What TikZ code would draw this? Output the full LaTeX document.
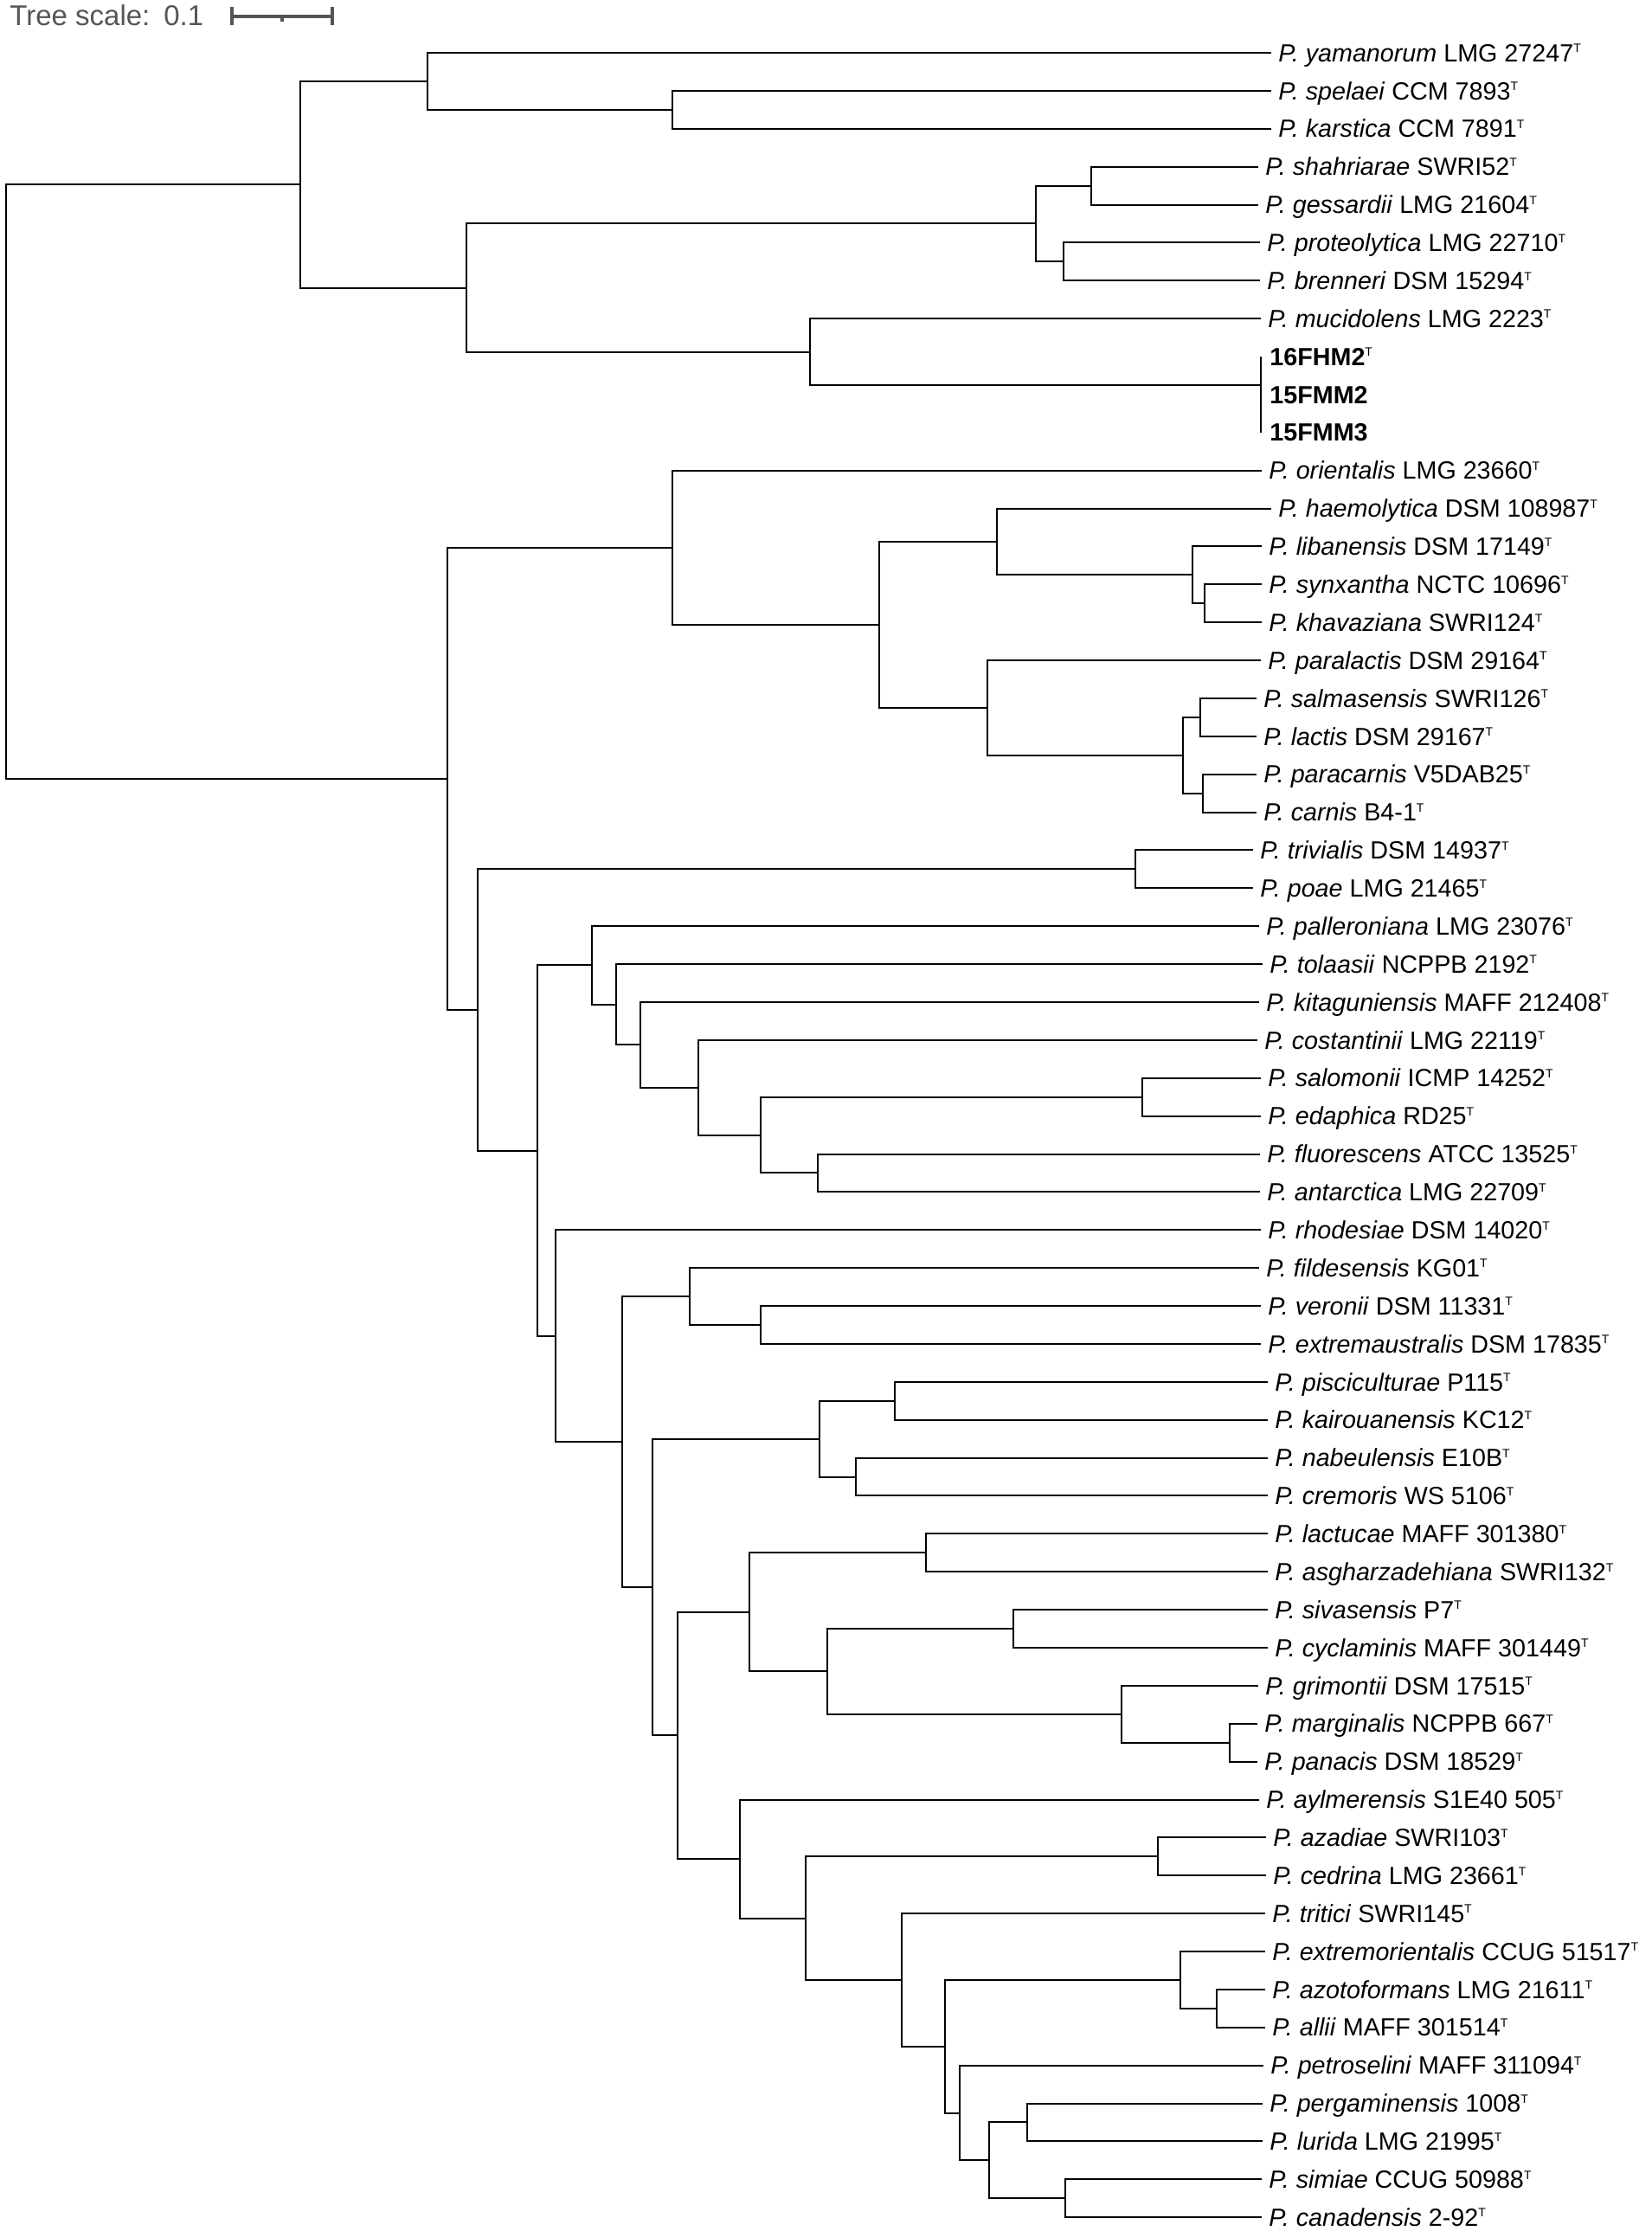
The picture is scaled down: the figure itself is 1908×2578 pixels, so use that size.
\documentclass[tikz,border=0pt]{standalone}
\usepackage{fontspec}
\setmainfont{Liberation Sans}
\definecolor{scalegray}{RGB}{85,85,85}
\newcommand{\supT}{\raisebox{5.2pt}{\fontsize{7}{8}\selectfont T}}
\newcommand{\tstrain}[2]{\textit{P. #1} #2\supT}

\tikzset{
  leaf/.style={anchor=west, inner xsep=4pt, inner ysep=0pt, text height=10.2pt,
    text depth=0pt, font=\fontsize{14.35}{16}\selectfont},
  branch/.style={draw=black, line width=1pt},
  scalebar/.style={draw=scalegray, line width=1.6pt}
}

\begin{document}
\begin{tikzpicture}[x=0.5pt, y=-21.94pt]
    % scale bar, in pixel units
    \begin{scope}[y=-0.5pt, yshift=30.5pt]
        \useasboundingbox (0,0) rectangle (1908,2578);
        \node[anchor=base west, inner sep=0pt, text=scalegray, font=\fontsize{16.5}{18}\selectfont]
            (scaletext) at (11,29.3) {Tree scale:\hspace{8pt}0.1};
        \draw[scalebar] (268,8) -- (268,29);
        \draw[scalebar] (268,19) -- (384,19);
        \draw[scalebar] (384,8) -- (384,29);
        \draw[scalebar] (326,19) -- (326,25);
    \end{scope}

    % inner nodes (x in px, y in rows)
    \coordinate (root) at (6.6,11.294);
    \coordinate (A) at (347.3,3.469);
    \coordinate (B) at (493.6,0.75);
    \coordinate (C) at (776.8,1.5);
    \coordinate (D) at (538.9,6.1875);
    \coordinate (E) at (1196.8,4.5);
    \coordinate (F) at (1261,3.5);
    \coordinate (G) at (1228.9,5.5);
    \coordinate (H) at (936.3,7.875);
    \coordinate (S) at (1457,8.75);
    \coordinate (S2) at (1457,9.5);
    \coordinate (I) at (517.2,19.118);
    \coordinate (J) at (776.8,13.031);
    \coordinate (K) at (1015.6,15.0625);
    \coordinate (L) at (1151.5,12.875);
    \coordinate (M) at (1378,13.75);
    \coordinate (N) at (1392.2,14.5);
    \coordinate (O) at (1141.1,17.25);
    \coordinate (P) at (1366.7,18.5);
    \coordinate (Q) at (1387.4,17.5);
    \coordinate (R) at (1390.3,19.5);
    \coordinate (X) at (552.1,25.205);
    \coordinate (T) at (1312,21.5);
    \coordinate (X2) at (621,28.910);
    \coordinate (Y) at (684.3,24.031);
    \coordinate (Y1) at (711.7,25.0625);
    \coordinate (Y2) at (740,26.125);
    \coordinate (Y3) at (807,27.25);
    \coordinate (Y4) at (878.7,28.5);
    \coordinate (Y5) at (1319.5,27.5);
    \coordinate (Y6) at (944.8,29.5);
    \coordinate (Z) at (641.8,33.789);
    \coordinate (Z1) at (719.2,36.578);
    \coordinate (Z2) at (796.6,32.75);
    \coordinate (Z2a) at (878.7,33.5);
    \coordinate (Z3) at (754.1,40.406);
    \coordinate (Z4) at (946.7,36.5);
    \coordinate (Z4a) at (1033.5,35.5);
    \coordinate (Z4b) at (989.1,37.5);
    \coordinate (Z5) at (783.4,44.3125);
    \coordinate (Z6) at (865.5,41.0625);
    \coordinate (Z6a) at (1070.3,39.5);
    \coordinate (Z6b) at (956.1,42.625);
    \coordinate (Z6c) at (1171.3,41.5);
    \coordinate (Z6d) at (1295.9,43.75);
    \coordinate (Z6e) at (1420.5,44.5);
    \coordinate (Z7) at (855.1,47.5625);
    \coordinate (Z8) at (930.6,49.125);
    \coordinate (Z9) at (1338.4,47.5);
    \coordinate (Z10) at (1042,50.75);
    \coordinate (Z11) at (1092,52.5);
    \coordinate (Z12) at (1363.8,50.75);
    \coordinate (Z12a) at (1406.3,51.5);
    \coordinate (Z13) at (1109,54.25);
    \coordinate (Z14) at (1143,55.5);
    \coordinate (Z14a) at (1187.4,54.5);
    \coordinate (Z14b) at (1230.8,56.5);

    % leaves
    \node[leaf] (yamanorum) at (1469,0) {\tstrain{yamanorum}{LMG 27247}};
    \node[leaf] (spelaei) at (1469,1) {\tstrain{spelaei}{CCM 7893}};
    \node[leaf] (karstica) at (1469,2) {\tstrain{karstica}{CCM 7891}};
    \node[leaf] (shahriarae) at (1454,3) {\tstrain{shahriarae}{SWRI52}};
    \node[leaf] (gessardii) at (1454,4) {\tstrain{gessardii}{LMG 21604}};
    \node[leaf] (proteolytica) at (1456,5) {\tstrain{proteolytica}{LMG 22710}};
    \node[leaf] (brenneri) at (1456,6) {\tstrain{brenneri}{DSM 15294}};
    \node[leaf] (mucidolens) at (1457,7) {\tstrain{mucidolens}{LMG 2223}};
    \node[leaf, inner xsep=5pt] (s16FHM2) at (1457,8) {\textbf{16FHM2}\supT};
    \node[leaf, inner xsep=5pt] (s15FMM2) at (1457,9) {\textbf{15FMM2}};
    \node[leaf, inner xsep=5pt] (s15FMM3) at (1457,10) {\textbf{15FMM3}};
    \node[leaf] (orientalis) at (1458,11) {\tstrain{orientalis}{LMG 23660}};
    \node[leaf] (haemolytica) at (1469,12) {\tstrain{haemolytica}{DSM 108987}};
    \node[leaf] (libanensis) at (1458,13) {\tstrain{libanensis}{DSM 17149}};
    \node[leaf] (synxantha) at (1458,14) {\tstrain{synxantha}{NCTC 10696}};
    \node[leaf] (khavaziana) at (1458,15) {\tstrain{khavaziana}{SWRI124}};
    \node[leaf] (paralactis) at (1457,16) {\tstrain{paralactis}{DSM 29164}};
    \node[leaf] (salmasensis) at (1452,17) {\tstrain{salmasensis}{SWRI126}};
    \node[leaf] (lactis) at (1452,18) {\tstrain{lactis}{DSM 29167}};
    \node[leaf] (paracarnis) at (1452,19) {\tstrain{paracarnis}{V5DAB25}};
    \node[leaf] (carnis) at (1452,20) {\tstrain{carnis}{B4-1}};
    \node[leaf] (trivialis) at (1448,21) {\tstrain{trivialis}{DSM 14937}};
    \node[leaf] (poae) at (1448,22) {\tstrain{poae}{LMG 21465}};
    \node[leaf] (palleroniana) at (1455,23) {\tstrain{palleroniana}{LMG 23076}};
    \node[leaf] (tolaasii) at (1459,24) {\tstrain{tolaasii}{NCPPB 2192}};
    \node[leaf] (kitaguniensis) at (1455,25) {\tstrain{kitaguniensis}{MAFF 212408}};
    \node[leaf] (costantinii) at (1453,26) {\tstrain{costantinii}{LMG 22119}};
    \node[leaf] (salomonii) at (1457,27) {\tstrain{salomonii}{ICMP 14252}};
    \node[leaf] (edaphica) at (1457,28) {\tstrain{edaphica}{RD25}};
    \node[leaf] (fluorescens) at (1456,29) {\tstrain{fluorescens}{ATCC 13525}};
    \node[leaf] (antarctica) at (1456,30) {\tstrain{antarctica}{LMG 22709}};
    \node[leaf] (rhodesiae) at (1457,31) {\tstrain{rhodesiae}{DSM 14020}};
    \node[leaf] (fildesensis) at (1455,32) {\tstrain{fildesensis}{KG01}};
    \node[leaf] (veronii) at (1457,33) {\tstrain{veronii}{DSM 11331}};
    \node[leaf] (extremaustralis) at (1457,34) {\tstrain{extremaustralis}{DSM 17835}};
    \node[leaf] (pisciculturae) at (1465,35) {\tstrain{pisciculturae}{P115}};
    \node[leaf] (kairouanensis) at (1465,36) {\tstrain{kairouanensis}{KC12}};
    \node[leaf] (nabeulensis) at (1465,37) {\tstrain{nabeulensis}{E10B}};
    \node[leaf] (cremoris) at (1465,38) {\tstrain{cremoris}{WS 5106}};
    \node[leaf] (lactucae) at (1465,39) {\tstrain{lactucae}{MAFF 301380}};
    \node[leaf] (asgharzadehiana) at (1465,40) {\tstrain{asgharzadehiana}{SWRI132}};
    \node[leaf] (sivasensis) at (1465,41) {\tstrain{sivasensis}{P7}};
    \node[leaf] (cyclaminis) at (1465,42) {\tstrain{cyclaminis}{MAFF 301449}};
    \node[leaf] (grimontii) at (1454,43) {\tstrain{grimontii}{DSM 17515}};
    \node[leaf] (marginalis) at (1453,44) {\tstrain{marginalis}{NCPPB 667}};
    \node[leaf] (panacis) at (1453,45) {\tstrain{panacis}{DSM 18529}};
    \node[leaf] (aylmerensis) at (1455,46) {\tstrain{aylmerensis}{S1E40 505}};
    \node[leaf] (azadiae) at (1463,47) {\tstrain{azadiae}{SWRI103}};
    \node[leaf] (cedrina) at (1463,48) {\tstrain{cedrina}{LMG 23661}};
    \node[leaf] (tritici) at (1462,49) {\tstrain{tritici}{SWRI145}};
    \node[leaf] (extremorientalis) at (1462,50) {\tstrain{extremorientalis}{CCUG 51517}};
    \node[leaf] (azotoformans) at (1462,51) {\tstrain{azotoformans}{LMG 21611}};
    \node[leaf] (allii) at (1462,52) {\tstrain{allii}{MAFF 301514}};
    \node[leaf] (petroselini) at (1460,53) {\tstrain{petroselini}{MAFF 311094}};
    \node[leaf] (pergaminensis) at (1459,54) {\tstrain{pergaminensis}{1008}};
    \node[leaf] (lurida) at (1459,55) {\tstrain{lurida}{LMG 21995}};
    \node[leaf] (simiae) at (1458,56) {\tstrain{simiae}{CCUG 50988}};
    \node[leaf] (canadensis) at (1458,57) {\tstrain{canadensis}{2-92}};

    % branches
    \foreach \p/\c in {root/A, root/I, A/B, A/D, B/yamanorum, B/C, C/spelaei, C/karstica,
        D/E, D/H, E/F, E/G, F/shahriarae, F/gessardii, G/proteolytica, G/brenneri,
        H/mucidolens, H/S, S/s16FHM2, S/S2, S2/s15FMM2, S2/s15FMM3,
        I/J, I/X, J/orientalis, J/K, K/L, K/O, L/haemolytica, L/M, M/libanensis, M/N,
        N/synxantha, N/khavaziana, O/paralactis, O/P, P/Q, P/R, Q/salmasensis, Q/lactis,
        R/paracarnis, R/carnis,
        X/T, X/X2, T/trivialis, T/poae, X2/Y, X2/Z,
        Y/palleroniana, Y/Y1, Y1/tolaasii, Y1/Y2, Y2/kitaguniensis, Y2/Y3,
        Y3/costantinii, Y3/Y4, Y4/Y5, Y4/Y6, Y5/salomonii, Y5/edaphica,
        Y6/fluorescens, Y6/antarctica,
        Z/rhodesiae, Z/Z1, Z1/Z2, Z1/Z3, Z2/fildesensis, Z2/Z2a, Z2a/veronii,
        Z2a/extremaustralis, Z3/Z4, Z3/Z5, Z4/Z4a, Z4/Z4b, Z4a/pisciculturae,
        Z4a/kairouanensis, Z4b/nabeulensis, Z4b/cremoris,
        Z5/Z6, Z5/Z7, Z6/Z6a, Z6/Z6b, Z6a/lactucae, Z6a/asgharzadehiana, Z6b/Z6c, Z6b/Z6d,
        Z6c/sivasensis, Z6c/cyclaminis, Z6d/grimontii, Z6d/Z6e, Z6e/marginalis, Z6e/panacis,
        Z7/aylmerensis, Z7/Z8, Z8/Z9, Z8/Z10, Z9/azadiae, Z9/cedrina, Z10/tritici, Z10/Z11,
        Z11/Z12, Z11/Z13, Z12/extremorientalis, Z12/Z12a, Z12a/azotoformans, Z12a/allii,
        Z13/petroselini, Z13/Z14, Z14/Z14a, Z14/Z14b, Z14a/pergaminensis, Z14a/lurida,
        Z14b/simiae, Z14b/canadensis}
        \draw[branch] (\p) |- (\c);
\end{tikzpicture}
\end{document}
